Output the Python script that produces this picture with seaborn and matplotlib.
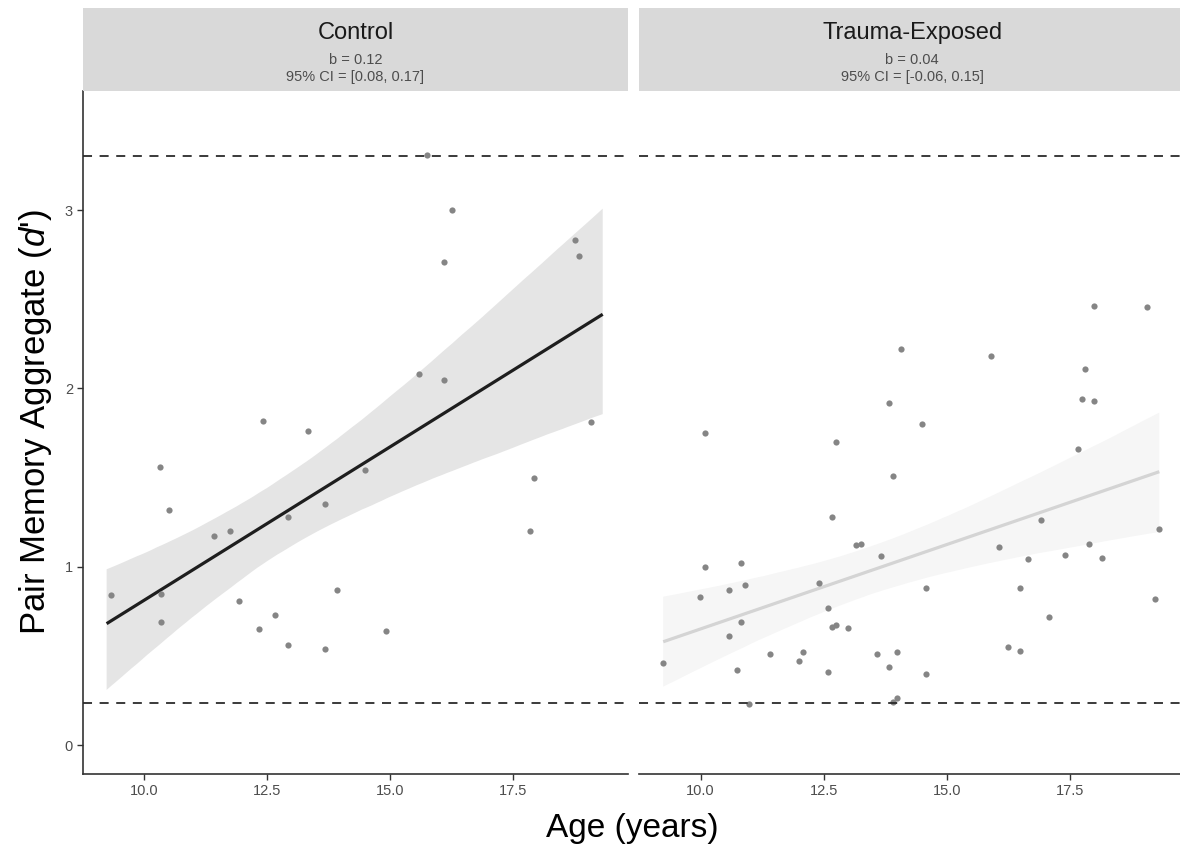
import numpy as np
import pandas as pd
import matplotlib
matplotlib.use("Agg")
import matplotlib.pyplot as plt
import seaborn as sns

# ---------------- data ----------------
control_age = [9.33, 10.33, 10.50, 10.34, 10.34, 11.42, 11.75, 11.92, 12.42, 12.33,
               12.67, 12.92, 12.92, 13.33, 13.67, 13.67, 13.92, 14.50, 14.92, 17.92,
               17.84, 19.09, 15.75, 16.26, 16.09, 16.09, 18.76, 18.84, 15.58]
control_dprime = [0.84, 1.56, 1.32, 0.845, 0.69, 1.17, 1.20, 0.81, 1.82, 0.65,
                  0.73, 1.28, 0.56, 1.76, 1.35, 0.54, 0.87, 1.54, 0.64, 1.50,
                  1.20, 1.81, 3.31, 3.00, 2.71, 2.05, 2.83, 2.74, 2.08]

trauma_age = [14.08, 13.83, 10.08, 12.75, 13.91, 12.66, 13.16, 13.25, 13.67, 10.08,
              10.83, 9.99, 10.58, 10.91, 12.41, 12.58, 10.83, 10.58, 12.66, 12.75,
              13.00, 9.24, 11.41, 12.08, 12.00, 10.74, 12.58, 13.58, 13.99, 13.83,
              14.00, 13.91, 10.99, 17.99, 19.08, 15.91, 17.82, 17.74, 17.99, 14.49,
              17.66, 16.91, 19.32, 16.07, 17.90, 16.66, 17.41, 18.15, 14.58, 16.49,
              19.24, 17.07, 16.24, 16.49, 14.58]
trauma_dprime = [2.22, 1.92, 1.75, 1.70, 1.51, 1.28, 1.12, 1.13, 1.06, 1.00,
                 1.02, 0.83, 0.87, 0.90, 0.91, 0.77, 0.69, 0.61, 0.66, 0.675,
                 0.655, 0.46, 0.51, 0.52, 0.47, 0.42, 0.41, 0.51, 0.52, 0.44,
                 0.265, 0.24, 0.23, 2.46, 2.455, 2.18, 2.11, 1.94, 1.93, 1.80,
                 1.66, 1.26, 1.21, 1.11, 1.13, 1.045, 1.065, 1.05, 0.88, 0.88,
                 0.82, 0.72, 0.55, 0.53, 0.40]

groups = ["Control", "Trauma-Exposed"]
slope_labels = ["b = 0.12", "b = 0.04"]
ci_labels = ["95% CI = [0.08, 0.17]", "95% CI = [-0.06, 0.15]"]
reference_lines = [3.305, 0.234]
x_ticks = [10.0, 12.5, 15.0, 17.5]
x_tick_labels = ["10.0", "12.5", "15.0", "17.5"]
y_ticks = [0, 1, 2, 3]
y_tick_labels = ["0", "1", "2", "3"]

df = pd.concat([
    pd.DataFrame({"group": "Control", "age": control_age, "dprime": control_dprime}),
    pd.DataFrame({"group": "Trauma-Exposed", "age": trauma_age, "dprime": trauma_dprime}),
], ignore_index=True)

# ---------------- style ----------------
sns.set_theme(style="ticks")
plt.rcParams["font.family"] = ["Liberation Sans", "DejaVu Sans"]
plt.rcParams["mathtext.fontset"] = "custom"
plt.rcParams["mathtext.rm"] = "Liberation Sans"
plt.rcParams["mathtext.it"] = "Liberation Sans:italic"

W, H = 1180, 852
fig = plt.figure(figsize=(W / 100, H / 100), dpi=100)

def fx(px):
    return px / W

def fy(py):
    return 1 - py / H

ax_left_px = [82.7, 639.3]
ax_w_px = 628.3 - 82.7
ax_top_px, ax_bot_px = 91.0, 774.3
strip_top_px = 8.0

line_colors = ["#1e1e1e", "#d4d4d4"]
ribbon_colors = ["#e5e5e5", "#f6f6f6"]
xlim = (8.754, 19.84)
ylim = (-0.164, 3.668)
fit_range = (df["age"].min(), df["age"].max())

for i, g in enumerate(groups):
    sub = df[df["group"] == g]
    ax = fig.add_axes([fx(ax_left_px[i]), fy(ax_bot_px), ax_w_px / W,
                       (ax_bot_px - ax_top_px) / H])
    ax.set_facecolor("white")

    # regression line + CI ribbon over the overall age range
    ax.set_xlim(*fit_range)
    n_before = len(ax.collections)
    sns.regplot(data=sub, x="age", y="dprime", ax=ax, scatter=False,
                truncate=False, ci=95, n_boot=20000, seed=3,
                color=line_colors[i], line_kws=dict(lw=2.3, zorder=3,
                                                    solid_capstyle="butt"))
    for coll in ax.collections[n_before:]:
        coll.set_facecolor(ribbon_colors[i])
        coll.set_alpha(1)
        coll.set_edgecolor("none")
        coll.set_zorder(1)

    sns.scatterplot(data=sub, x="age", y="dprime", ax=ax, color="#858585",
                    s=20, linewidth=0, zorder=4)

    for yv in reference_lines:
        ax.axhline(yv, color="#2b2b2b", lw=1.3, linestyle=(0, (5, 4.2)), zorder=5)

    ax.set_xlim(*xlim)
    ax.set_ylim(*ylim)
    ax.set_xticks(x_ticks)
    ax.set_xticklabels(x_tick_labels)
    ax.set_xlabel("")
    ax.set_ylabel("")
    ax.tick_params(axis="both", labelsize=10.5, labelcolor="#4d4d4d",
                   color="#333333", length=4, width=1, pad=3)
    for s in ["top", "right"]:
        ax.spines[s].set_visible(False)
    ax.spines["bottom"].set_color("#333333")
    ax.spines["bottom"].set_linewidth(1.2)
    if i == 0:
        ax.set_yticks(y_ticks)
        ax.set_yticklabels(y_tick_labels)
        ax.spines["left"].set_color("#333333")
        ax.spines["left"].set_linewidth(1.2)
    else:
        ax.set_yticks([])
        ax.spines["left"].set_visible(False)

    # facet strip
    sax = fig.add_axes([fx(ax_left_px[i]), fy(ax_top_px - 0.3), ax_w_px / W,
                        (ax_top_px - 0.3 - strip_top_px) / H])
    sax.set_facecolor("#d9d9d9")
    sax.set_xticks([])
    sax.set_yticks([])
    for s in sax.spines.values():
        s.set_visible(False)
    sax.text(0.5, 0.7, g, ha="center", va="center", fontsize=17,
             color="#1a1a1a", transform=sax.transAxes)
    sax.text(0.5, 0.37, slope_labels[i], ha="center", va="center",
             fontsize=10.5, color="#4d4d4d", transform=sax.transAxes)
    sax.text(0.5, 0.165, ci_labels[i], ha="center", va="center",
             fontsize=10.5, color="#4d4d4d", transform=sax.transAxes)

fig.text(fx(632), fy(828), "Age (years)", ha="center", va="center",
         fontsize=24, color="black")
fig.text(fx(36), fy(422), r"Pair Memory Aggregate ($\mathit{d}$')", ha="center",
         va="center", rotation=90, fontsize=25, color="black")

fig.savefig("out.png", dpi=100)
